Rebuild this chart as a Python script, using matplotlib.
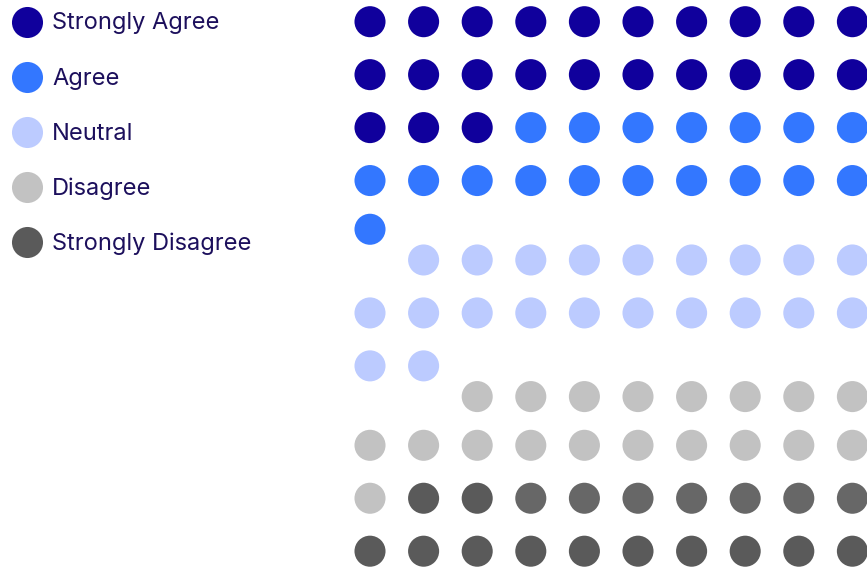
import matplotlib.pyplot as plt
import numpy as np

categories = ["Strongly Agree", "Agree", "Neutral", "Disagree", "Strongly Disagree"]
counts = [23, 18, 21, 19, 19]
colors = ["#10009c", "#3377ff", "#bccbff", "#c2c2c2", "#5a5a5a"]
# groups are caught mid-way spreading apart, so each one sits a bit lower
row_shift = [0, 0, 0.5, 1, 1]
# small extra nudge (rows) for a category's first / last row
first_row_nudge = {"Disagree": 0.08}
last_row_nudge = {"Agree": -0.08}
# a few strongly-disagree dots are still fading in
fading = {"Strongly Disagree": (2, 9)}
fading_color = "#676767"
ncols = 10

fig = plt.figure(figsize=(8.67, 5.68), dpi=100)

# dot grid: column c at 370 + 53.6c px, row r at 21.7 + 52.95r px
ax = fig.add_axes([0, 0, 1, 1])
ax.set_xlim(-370 / 53.6, (867 - 370) / 53.6)
ax.set_ylim((568 - 21.7) / 52.95, -21.7 / 52.95)
ax.axis("off")

start = 0
for cat, n, col, shift in zip(categories, counts, colors, row_shift):
    idx = np.arange(start, start + n)
    cx = idx % ncols
    rows = idx // ncols
    cy = rows + float(shift)
    cy = np.where(rows == rows.min(), cy + first_row_nudge.get(cat, 0), cy)
    cy = np.where(rows == rows.max(), cy + last_row_nudge.get(cat, 0), cy)
    cols = [col] * n
    if cat in fading:
        a, b = fading[cat]
        for k in range(a, b):
            cols[k] = fading_color
    ax.scatter(cx, cy, s=500, c=cols, linewidths=0)
    start += n

# legend in pixel space
lg = fig.add_axes([0, 0, 1, 1])
lg.set_xlim(0, 867)
lg.set_ylim(568, 0)
lg.axis("off")
for i, (cat, col) in enumerate(zip(categories, colors)):
    y = 21.5 + 55.1 * i
    lg.scatter([26.5], [y], s=500, color=col, linewidths=0)
    lg.text(52, y + 2, cat, fontsize=17, family="Inter", color="#1c0f5c",
            va="center", ha="left")

fig.savefig("out.png", dpi=100)
